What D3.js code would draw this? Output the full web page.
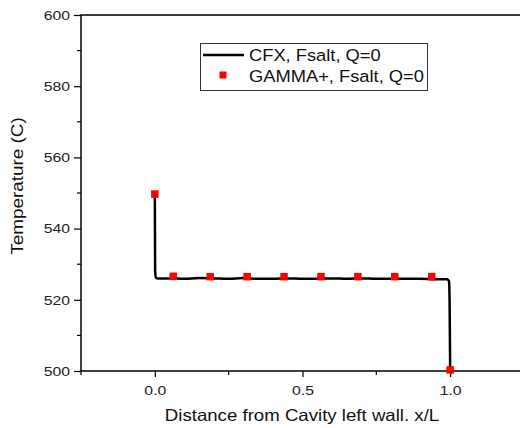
<!DOCTYPE html>
<html>
<head>
<meta charset="utf-8">
<script src="https://cdn.jsdelivr.net/npm/d3@7"></script>
<style>
  body { margin: 0; background: #fff; }
  svg { font-family: "Liberation Sans", Arial, sans-serif; }
</style>
</head>
<body>
<div id="chart"></div>
<script>
// CFX line (x/L, temperature)
var cfxX = [0, 0.001, 0.004, 0.01, 0.05, 0.1, 0.15, 0.2, 0.25, 0.3, 0.35, 0.4, 0.45, 0.5, 0.55, 0.6, 0.65, 0.7, 0.75, 0.8, 0.85, 0.9, 0.95, 0.99, 0.996, 0.998, 1.0];
var cfxT = [549.2, 528, 526.2, 526.0, 526.0, 525.9, 526.1, 526.0, 525.9, 526.1, 525.9, 525.9, 526.0, 525.9, 525.9, 526.0, 525.9, 526.0, 525.9, 525.9, 525.9, 525.9, 525.8, 525.8, 525.2, 520, 500.5];

// GAMMA+ points
var gamX = [0, 0.0625, 0.1875, 0.3125, 0.4375, 0.5625, 0.6875, 0.8125, 0.9375, 1.0];
var gamT = [549.7, 526.6, 526.5, 526.5, 526.5, 526.5, 526.5, 526.5, 526.5, 500.3];

var xTicks = [0, 0.5, 1.0];
var yTicks = [500, 520, 540, 560, 580, 600];

var width = 520, height = 428;
var pLeft = 81, pRight = 524, pTop = 15, pBottom = 371;

var svg = d3.select("#chart").append("svg")
    .attr("width", width)
    .attr("height", height);

var x = d3.scaleLinear().domain([-0.25, 1.25]).range([pLeft, pRight]);
var y = d3.scaleLinear().domain([500, 600]).range([pBottom, pTop]);

//minor ticks
var yMinor = d3.range(510, 600, 20);
svg.append("g").selectAll("line").data(yMinor).enter().append("line")
    .attr("x1", pLeft - 4).attr("x2", pLeft)
    .attr("y1", d => y(d)).attr("y2", d => y(d))
    .attr("stroke", "#000").attr("stroke-width", 1.2);
var xMinor = [-0.25, 0.25, 0.75];
svg.append("g").selectAll("line").data(xMinor).enter().append("line")
    .attr("x1", d => x(d)).attr("x2", d => x(d))
    .attr("y1", pBottom).attr("y2", pBottom + 4)
    .attr("stroke", "#000").attr("stroke-width", 1.2);

//axes
var yAxis = svg.append("g")
    .attr("transform", "translate(" + pLeft + ",0)")
    .call(d3.axisLeft(y).tickValues(yTicks).tickSize(7).tickPadding(3).tickFormat(d3.format("d")));
var xAxis = svg.append("g")
    .attr("transform", "translate(0," + pBottom + ")")
    .call(d3.axisBottom(x).tickValues(xTicks).tickSize(6).tickPadding(9).tickFormat(d3.format(".1f")));

[yAxis, xAxis].forEach(g => {
    g.select(".domain").remove();
    g.selectAll("line").attr("stroke", "#000").attr("stroke-width", 1.2);
    g.selectAll("text").attr("fill", "#222").style("font-size", "13.5px")
        .style("font-family", '"Liberation Sans", Arial, sans-serif');
});
//the original glyphs are wider than they are tall
yAxis.selectAll("text").attr("x", 0).attr("transform", "translate(-11,0) scale(1.17,1)");
xAxis.selectAll("text").attr("y", 0).attr("dy", 0).attr("transform", "translate(0,24) scale(1.17,1)");

//frame
svg.append("path")
    .attr("d", "M" + pRight + "," + pTop + "H" + pLeft + "V" + pBottom + "H" + pRight)
    .attr("fill", "none").attr("stroke", "#000").attr("stroke-width", 1.5);

//CFX line
var line = d3.line()
    .x((d, i) => x(cfxX[i]))
    .y((d, i) => y(cfxT[i]))
    .curve(d3.curveMonotoneX);
svg.append("path")
    .datum(cfxX)
    .attr("d", line)
    .attr("fill", "none")
    .attr("stroke", "#000")
    .attr("stroke-width", 2.5)
    .attr("stroke-linejoin", "round");

//GAMMA+ markers
var ms = 7.5;
svg.append("g").selectAll("rect").data(gamX).enter().append("rect")
    .attr("x", d => x(d) - ms / 2)
    .attr("y", (d, i) => y(gamT[i]) - ms / 2)
    .attr("width", ms).attr("height", ms)
    .attr("fill", "#ff0000");

//legend
var lg = svg.append("g");
lg.append("rect")
    .attr("x", 200.5).attr("y", 43.5).attr("width", 227).attr("height", 47)
    .attr("fill", "#fff").attr("stroke", "#333").attr("stroke-width", 1);
lg.append("line")
    .attr("x1", 203).attr("x2", 244).attr("y1", 55).attr("y2", 55)
    .attr("stroke", "#000").attr("stroke-width", 2.5);
lg.append("text").attr("transform", "translate(249,61) scale(1.11,1)").text("CFX, Fsalt, Q=0")
    .style("font-size", "16.5px").attr("fill", "#111");
lg.append("rect")
    .attr("x", 223 - 3.5).attr("y", 75 - 3.5).attr("width", 7).attr("height", 7)
    .attr("fill", "#ff0000");
lg.append("text").attr("transform", "translate(249,82) scale(1.11,1)").text("GAMMA+, Fsalt, Q=0")
    .style("font-size", "16.5px").attr("fill", "#111");

//axis labels
svg.append("text")
    .attr("transform", "translate(302,421) scale(1.13,1)")
    .attr("text-anchor", "middle")
    .style("font-size", "16.5px").attr("fill", "#111")
    .text("Distance from Cavity left wall. x/L");
svg.append("text")
    .attr("transform", "translate(23,186) rotate(-90) scale(1.18,1)")
    .attr("text-anchor", "middle")
    .style("font-size", "16px").attr("fill", "#111")
    .text("Temperature (C)");
</script>
</body>
</html>
